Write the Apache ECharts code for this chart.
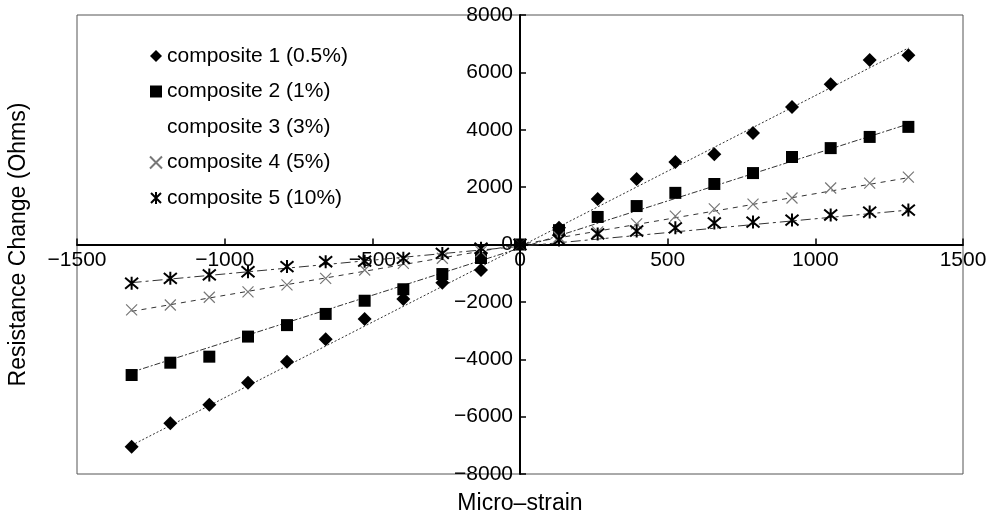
<!DOCTYPE html>
<html>
<head>
<meta charset="utf-8">
<script src="https://cdn.jsdelivr.net/npm/echarts@6/dist/echarts.min.js"></script>
<style>
  html, body { margin: 0; padding: 0; background: #fff; }
  #chart { width: 993px; height: 520px; }
</style>
</head>
<body>
<div id="chart"></div>
<script>
// micro-strain steps
const strain = [-1315, -1184, -1052, -921, -789, -658, -526, -395, -263, -132, 0,
  132, 263, 395, 526, 658, 789, 921, 1052, 1184, 1315];

const composite1 = [-7050, -6230, -5590, -4820, -4090, -3300, -2600, -1900, -1330, -890, 0,
  580, 1590, 2280, 2880, 3150, 3890, 4790, 5590, 6430, 6600];
const composite2 = [-4550, -4120, -3910, -3210, -2810, -2420, -1960, -1560, -1030, -470, 0,
  500, 960, 1340, 1800, 2110, 2490, 3050, 3360, 3750, 4100];
const composite3 = []; // no marks visible in the figure
const composite4 = [-2280, -2110, -1840, -1650, -1410, -1180, -890, -660, -480, -250, 0,
  260, 440, 720, 990, 1240, 1410, 1620, 1970, 2140, 2350];
const composite5 = [-1350, -1180, -1060, -950, -770, -600, -580, -480, -310, -130, 0,
  160, 370, 470, 580, 750, 780, 850, 1030, 1130, 1200];

// straight trend lines, end points
const fit1 = [[-1315, -7000], [1315, 6850]];
const fit2 = [[-1315, -4450], [1315, 4200]];
const fit4 = [[-1315, -2330], [1315, 2330]];
const fit5 = [[-1315, -1330], [1315, 1200]];

const names = ["composite 1 (0.5%)", "composite 2 (1%)", "composite 3 (3%)",
  "composite 4 (5%)", "composite 5 (10%)"];

const xMin = -1500, xMax = 1500, xStep = 500;
const yMin = -8000, yMax = 8000, yStep = 2000;

const FONT = "Liberation Sans";
const minus = (v) => String(v).replace("-", "\u2212");
const pairs = (vals) => vals.map((v, i) => [strain[i], v]);

const crossPath = "path://M0,0L10,10M10,0L0,10";
const starPath = "path://M0,1L10,11M10,1L0,11M5,0L5,12";

// grid box in px; axes are pulled in to cross at the origin
const gridLeft = 77, gridRight = 30, gridTop = 15, gridBottom = 46;
const plotW = 993 - gridLeft - gridRight;
const plotH = 520 - gridTop - gridBottom;

function fitLine(data, dash) {
  return {
    type: "line",
    data: data,
    symbol: "none",
    silent: true,
    z: 1,
    lineStyle: { color: "#333", width: 1, type: dash },
  };
}

var chart = echarts.init(document.getElementById("chart"));

let option = {
  animation: false,
  backgroundColor: "#fff",
  grid: {
    left: gridLeft, right: gridRight, top: gridTop, bottom: gridBottom,
    outerBoundsMode: "none",
    containLabel: false,
    show: true, borderColor: "#555", borderWidth: 1,
  },
  legend: {
    data: names,
    orient: "vertical",
    left: 144,
    top: 40,
    itemWidth: 12,
    itemHeight: 12,
    itemGap: 13.5,
    textStyle: { fontFamily: FONT, fontSize: 21, color: "#000", lineHeight: 22 },
  },
  xAxis: {
    type: "value",
    min: xMin, max: xMax, interval: xStep,
    offset: -plotH * (0 - yMin) / (yMax - yMin),
    name: "Micro\u2013strain",
    nameLocation: "middle",
    nameGap: 248,
    nameTextStyle: { fontFamily: FONT, fontSize: 23, color: "#000" },
    axisLine: { onZero: false, lineStyle: { color: "#000", width: 2 } },
    axisTick: { inside: true, length: 6, lineStyle: { color: "#000", width: 1.5 } },
    axisLabel: { fontFamily: FONT, fontSize: 21, color: "#000", margin: 5, formatter: minus },
    splitLine: { show: false },
  },
  yAxis: {
    type: "value",
    min: yMin, max: yMax, interval: yStep,
    offset: -plotW * (0 - xMin) / (xMax - xMin),
    name: "Resistance Change (Ohms)",
    nameLocation: "middle",
    nameGap: 490,
    nameTextStyle: { fontFamily: FONT, fontSize: 23, color: "#000" },
    axisLine: { onZero: false, lineStyle: { color: "#000", width: 2 } },
    axisTick: { inside: true, length: 6, lineStyle: { color: "#000", width: 1.5 } },
    axisLabel: { fontFamily: FONT, fontSize: 21, color: "#000", margin: 7, formatter: minus },
    splitLine: { show: false },
  },
  series: [
    fitLine(fit1, [2, 2]),
    fitLine(fit2, [6, 2, 2, 2]),
    fitLine(fit4, [5, 5]),
    fitLine(fit5, [10, 4, 3, 4]),
    {
      name: names[0], type: "scatter", data: pairs(composite1),
      symbol: "diamond", symbolSize: 14, z: 3,
      itemStyle: { color: "#000", opacity: 1 },
    },
    {
      name: names[1], type: "scatter", data: pairs(composite2),
      symbol: "rect", symbolSize: 12, z: 3,
      itemStyle: { color: "#000", opacity: 1 },
    },
    {
      name: names[2], type: "scatter", data: composite3,
      symbol: "triangle", symbolSize: 10, z: 3,
      itemStyle: { color: "rgba(0,0,0,0)" },
    },
    {
      name: names[3], type: "scatter", data: pairs(composite4),
      symbol: crossPath, symbolSize: 11, z: 3,
      itemStyle: { color: "#777", borderColor: "#777", borderWidth: 1.2, opacity: 1 },
    },
    {
      name: names[4], type: "scatter", data: pairs(composite5),
      symbol: starPath, symbolSize: 13, z: 3,
      itemStyle: { color: "#000", borderColor: "#000", borderWidth: 2, opacity: 1 },
    },
  ],
};

option && chart.setOption(option);
</script>
</body>
</html>
